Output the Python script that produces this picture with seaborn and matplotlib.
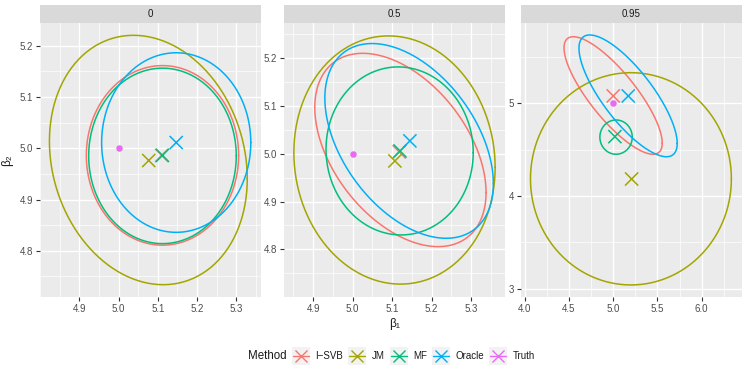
import numpy as np
import pandas as pd
import matplotlib
matplotlib.use("Agg")
import matplotlib.pyplot as plt
from matplotlib.patches import Rectangle
from matplotlib.ticker import MultipleLocator
import seaborn as sns

# ---------------- data ----------------
panels = ["0", "0.5", "0.95"]
methods = ["I\u2212SVB", "JM", "MF", "Oracle"]
legend_items = methods + ["Truth"]
colors = {"I\u2212SVB": "#F8766D", "JM": "#A3A500", "MF": "#00BF7D",
          "Oracle": "#00B0F6", "Truth": "#E76BF3"}

# point estimates (crosses) per panel, ordered as methods
est_b1 = {"0": [5.110, 5.077, 5.112, 5.147],
          "0.5": [5.118, 5.107, 5.120, 5.145],
          "0.95": [5.000, 5.208, 5.019, 5.170]}
est_b2 = {"0": [4.986, 4.976, 4.986, 5.011],
          "0.5": [5.004, 4.985, 5.006, 5.027],
          "0.95": [5.079, 4.183, 4.640, 5.079]}

# ellipse centres, half-ranges in b1 / b2 and correlation
ell_cx = {"0": [5.112, 5.076, 5.112, 5.147],
          "0.5": [5.121, 5.106, 5.119, 5.143],
          "0.95": [4.999, 5.200, 5.032, 5.168]}
ell_cy = {"0": [4.986, 4.977, 4.985, 5.011],
          "0.5": [5.008, 4.987, 5.006, 5.027],
          "0.95": [5.084, 4.185, 4.635, 5.080]}
ell_ax = {"0": [0.194, 0.252, 0.188, 0.190],
          "0.5": [0.217, 0.255, 0.1865, 0.2135],
          "0.95": [0.555, 1.135, 0.183, 0.555]}
ell_ay = {"0": [0.175, 0.243, 0.171, 0.175],
          "0.5": [0.2025, 0.260, 0.176, 0.204],
          "0.95": [0.634, 1.145, 0.185, 0.657]}
ell_rho = {"0": [0.0, -0.15, 0.0, 0.0],
           "0.5": [-0.44, -0.06, -0.02, -0.44],
           "0.95": [-0.81, 0.0, 0.0, -0.78]}

truth_b1 = [5.0, 5.0, 5.0]
truth_b2 = [5.0, 5.0, 5.0]

xlims = {"0": (4.80, 5.363), "0.5": (4.826, 5.386), "0.95": (3.958, 6.455)}
ylims = {"0": (4.71, 5.244), "0.5": (4.70, 5.274), "0.95": (2.91, 5.866)}
xticks = {"0": [4.9, 5.0, 5.1, 5.2, 5.3], "0.5": [4.9, 5.0, 5.1, 5.2, 5.3],
          "0.95": [4.0, 4.5, 5.0, 5.5, 6.0]}
yticks = {"0": [4.8, 4.9, 5.0, 5.1, 5.2], "0.5": [4.8, 4.9, 5.0, 5.1, 5.2],
          "0.95": [3, 4, 5]}
xminor = {"0": 0.05, "0.5": 0.05, "0.95": 0.25}
yminor = {"0": 0.05, "0.5": 0.05, "0.95": 0.5}

# ---------------- style ----------------
sns.set_theme(style="darkgrid", rc={
    "axes.facecolor": "#EBEBEB", "grid.color": "white",
    "xtick.bottom": True, "ytick.left": True,
    "xtick.color": "#333333", "ytick.color": "#333333",
    "xtick.major.size": 3, "ytick.major.size": 3,
    "xtick.major.width": 0.8, "ytick.major.width": 0.8,
    "xtick.major.pad": 2, "ytick.major.pad": 2,
})
plt.rcParams["font.family"] = ["Liberation Sans", "DejaVu Sans"]

fig = plt.figure(figsize=(7.47, 3.74), dpi=100)
W, H = 747, 374
lefts = [40, 284, 521]
pw, top, bot = 221, 23, 297
FS = 7.0

t = np.linspace(0, 2 * np.pi, 241)
for i, p in enumerate(panels):
    ax = fig.add_axes([lefts[i] / W, (H - bot) / H, pw / W, (bot - top) / H])
    rows = []
    for j, m in enumerate(methods):
        cx, cy = ell_cx[p][j], ell_cy[p][j]
        a, b, r = ell_ax[p][j], ell_ay[p][j], ell_rho[p][j]
        xs = cx + a * np.cos(t)
        ys = cy + b * (r * np.cos(t) + np.sqrt(1 - r ** 2) * np.sin(t))
        for k in range(len(t)):
            rows.append((m, k, xs[k], ys[k]))
    edf = pd.DataFrame(rows, columns=["Method", "k", "b1", "b2"])
    sns.lineplot(data=edf, x="b1", y="b2", hue="Method", units="Method",
                 estimator=None, sort=False, palette=colors, lw=1.1,
                 legend=False, ax=ax)
    pdf = pd.DataFrame({"Method": methods, "b1": est_b1[p], "b2": est_b2[p]})
    sns.scatterplot(data=pdf, x="b1", y="b2", hue="Method", palette=colors,
                    marker="x", s=90, linewidth=1.1, legend=False, ax=ax, zorder=5)
    tdf = pd.DataFrame({"Method": ["Truth"], "b1": [truth_b1[i]], "b2": [truth_b2[i]]})
    sns.scatterplot(data=tdf, x="b1", y="b2", hue="Method", palette=colors,
                    s=22, linewidth=0, legend=False, ax=ax, zorder=5)

    ax.set_xlim(*xlims[p]); ax.set_ylim(*ylims[p])
    ax.set_xticks(xticks[p]); ax.set_yticks(yticks[p])
    ax.xaxis.set_minor_locator(MultipleLocator(xminor[p]))
    ax.yaxis.set_minor_locator(MultipleLocator(yminor[p]))
    ax.grid(which="major", color="white", lw=1.0)
    ax.grid(which="minor", color="white", lw=0.5)
    ax.tick_params(which="minor", length=0)
    ax.tick_params(labelsize=FS, labelcolor="#4D4D4D")
    for s in ax.spines.values():
        s.set_visible(False)
    ax.set_xlabel("\u03b2\u2081" if i == 1 else "", fontsize=8.5, color="#1A1A1A")
    ax.set_ylabel("\u03b2\u2082" if i == 0 else "", fontsize=8.5, color="#1A1A1A")
    if i == 0:
        ax.yaxis.set_label_coords(-(40 - 13) / pw, 0.5)
    else:
        ax.xaxis.set_label_coords(0.5, -(318 - bot) / (bot - top))
    # strip
    sh = 18 / (bot - top)
    ax.add_patch(Rectangle((0, 1), 1, sh, transform=ax.transAxes,
                           facecolor="#D9D9D9", edgecolor="none", clip_on=False))
    ax.text(0.5, 1 + sh / 2, p, transform=ax.transAxes, ha="center",
            va="center", fontsize=FS, color="#1A1A1A")

# ---------------- legend (drawn in a pixel-space overlay) ----------------
lax = fig.add_axes([0, 0, 1, 1], zorder=-1)
lax.set_xlim(0, W); lax.set_ylim(H, 0); lax.axis("off")
ly = 356
lax.text(248, ly, "Method", ha="left", va="center", fontsize=8.3, color="#1A1A1A")
key_x = [292, 348, 390, 432, 489]
ks = 17.5
for m, kx in zip(legend_items, key_x):
    lax.add_patch(Rectangle((kx, ly - ks / 2), ks, ks, facecolor="#F2F2F2",
                            edgecolor="none"))
    lax.plot([kx + 0.5, kx + ks - 0.5], [ly, ly], color=colors[m], lw=1.0)
    lax.plot([kx + ks / 2], [ly], marker="x", markersize=8.5,
             markeredgewidth=1.0, color=colors[m], linestyle="none")
    lax.text(kx + ks + 6, ly, m, ha="left", va="center", fontsize=FS,
             color="#1A1A1A")

fig.savefig("out.png", dpi=100)
